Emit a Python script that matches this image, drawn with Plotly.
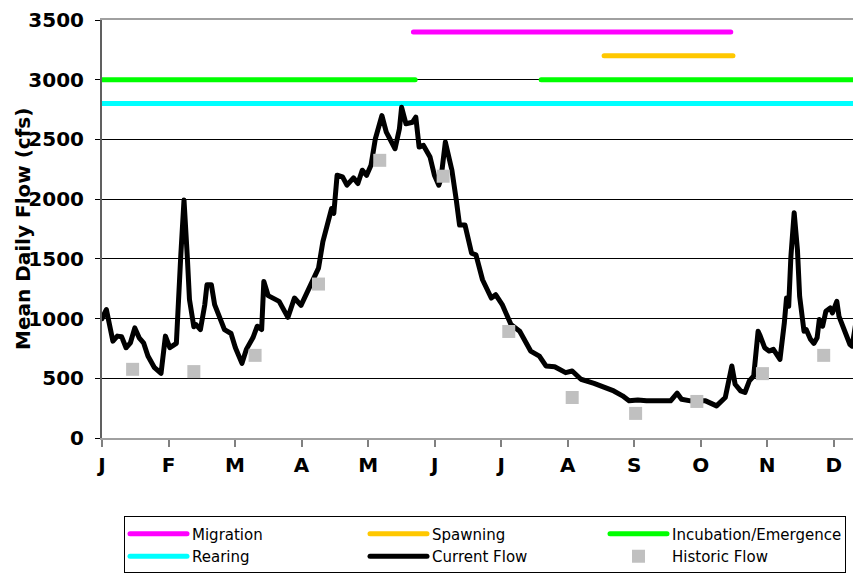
import plotly.graph_objects as go

# ---- data ----
month_labels = ["J", "F", "M", "A", "M", "J", "J", "A", "S", "O", "N", "D"]
month_starts = [i * 365 / 12 for i in range(12)]

flow_days = [0, 2, 5, 7, 9, 11, 13, 15, 17, 19, 21, 24, 27, 29, 31, 34, 36, 37.5, 39, 40,
             42, 43, 45, 47, 48, 50, 51.5, 53, 56, 59, 61, 64, 66, 69, 71, 73, 74, 76, 78, 81,
             85, 88, 91, 94, 96, 99, 101, 104, 105, 106, 107.5, 110, 112, 115, 117, 119, 121, 123, 125, 128,
             130, 134, 136, 137, 139, 142, 143.5, 145, 147, 150, 152, 154, 155, 157, 160, 162, 163.5, 166, 169, 171,
             174, 178, 180, 183, 187, 191, 196, 200, 203, 207, 212, 215, 219, 225, 230, 234, 238, 241, 245, 249,
             260, 263, 265, 269, 276, 281, 285, 286, 288, 289.5, 292, 294, 296, 298, 300, 301, 303, 305, 307, 308.5,
             310, 312, 313, 314, 315, 316.5, 318, 319, 321, 322, 324, 325.5, 327, 328, 329.5, 331, 333, 334, 336, 337,
             340, 342, 343, 345]
flow_vals = [1000, 1075, 811, 853, 847, 756, 797, 922, 839, 797, 686, 589, 542, 853, 756, 792, 1519, 1992, 1519, 1158,
             931, 950, 908, 1117, 1283, 1283, 1117, 1047, 908, 875, 756, 625, 742, 839, 936, 908, 1311, 1192, 1172, 1144,
             1010, 1172, 1110, 1228, 1325, 1422, 1644, 1839, 1922, 1881, 2200, 2186, 2117, 2178, 2131, 2242, 2200, 2283, 2506, 2700,
             2561, 2422, 2589, 2769, 2631, 2644, 2686, 2436, 2450, 2353, 2200, 2117, 2172, 2478, 2242, 1992, 1783, 1783, 1547, 1533,
             1325, 1172, 1200, 1117, 950, 894, 728, 686, 603, 597, 547, 561, 492, 458, 422, 394, 353, 311, 319, 311,
             311, 375, 325, 311, 311, 269, 339, 436, 603, 450, 394, 381, 478, 519, 894, 853, 756, 728, 742, 700,
             658, 964, 1172, 1103, 1519, 1886, 1575, 1186, 894, 908, 825, 792, 839, 992, 936, 1061, 1089, 1047, 1144, 1019,
             867, 783, 769, 1000]

hist_days = [14, 42, 70, 99, 127, 156, 186, 215, 244, 272, 302, 330]
hist_vals = [575, 556, 692, 1289, 2325, 2192, 892, 339, 206, 306, 539, 692]

migration_days = [142.4, 287.5]
migration_level = [3400, 3400]
spawning_days = [229.6, 288.5]
spawning_level = [3200, 3200]
incubation_days = [0, 143.2, None, 200.8, 365]
incubation_level = [3000, 3000, None, 3000, 3000]
rearing_days = [0, 365]
rearing_level = [2800, 2800]

FONT = "DejaVu Sans, Arial, sans-serif"

W, H = 853, 577
L, T = 102, 20
PLOT_BOTTOM = 438.5
B = H - PLOT_BOTTOM
PLOT_W = W - L
PLOT_H = PLOT_BOTTOM - T

fig = go.Figure()
line_w = 5
fig.add_trace(go.Scatter(x=rearing_days, y=rearing_level, mode="lines", name="Rearing",
                         line=dict(color="#00FFFF", width=line_w), legendrank=4))
fig.add_trace(go.Scatter(x=incubation_days, y=incubation_level, mode="lines", name="Incubation/Emergence",
                         line=dict(color="#00FF00", width=line_w), connectgaps=False, legendrank=3))
fig.add_trace(go.Scatter(x=spawning_days, y=spawning_level, mode="lines", name="Spawning",
                         line=dict(color="#FFC800", width=line_w), legendrank=2))
fig.add_trace(go.Scatter(x=migration_days, y=migration_level, mode="lines", name="Migration",
                         line=dict(color="#FF00FF", width=line_w), legendrank=1))
fig.add_trace(go.Scatter(x=flow_days, y=flow_vals, mode="lines", name="Current Flow",
                         line=dict(color="#000000", width=5), legendrank=5))
fig.add_trace(go.Scatter(x=hist_days, y=hist_vals, mode="markers", name="Historic Flow",
                         marker=dict(symbol="square", size=13, color="#C0C0C0"), legendrank=6))

fig.update_layout(
    width=W, height=H,
    paper_bgcolor="white", plot_bgcolor="white",
    margin=dict(l=L, r=0, t=T, b=B, autoexpand=False),
    font=dict(family=FONT, color="black"),
    xaxis=dict(range=[0, 343.4], tickvals=month_starts, ticktext=month_labels,
               showgrid=False, zeroline=False, showline=True, linecolor="#A0A0A0", linewidth=2,
               mirror=True, ticks="outside", ticklen=7, tickcolor="#808080", tickwidth=2,
               ticklabelstandoff=1,
               tickfont=dict(family=FONT, size=20, color="black", weight="bold")),
    yaxis=dict(range=[0, 3500], dtick=500, showgrid=True, gridcolor="black", gridwidth=1,
               zeroline=False, showline=True, linecolor="#606060", linewidth=2,
               ticks="outside", ticklen=5, tickcolor="black", ticklabelstandoff=7,
               tickfont=dict(family=FONT, size=20, color="black", weight="bold")),
    showlegend=True,
    legend=dict(orientation="h", x=(124 - L) / PLOT_W, y=-(517 - PLOT_BOTTOM) / PLOT_H,
                xanchor="left", yanchor="top",
                bordercolor="black", borderwidth=1, bgcolor="white",
                itemwidth=57, entrywidth=168, font=dict(family=FONT, size=15, color="black")),
    annotations=[dict(text="<b>Mean Daily Flow (cfs)</b>", textangle=-90, xref="paper", yref="paper",
                      x=(23 - L) / PLOT_W, y=0.5, xanchor="center", yanchor="middle", showarrow=False,
                      font=dict(family=FONT, size=20, color="black"))],
)

fig.write_html(
    "out.html",
    config={"displayModeBar": False},
    post_script=(
        "document.body.style.margin='0';document.body.style.overflow='hidden';"
        "document.querySelectorAll('.js-line').forEach(function(p){"
        "p.style.strokeLinecap='round';p.style.strokeLinejoin='round';});"
    ),
)
